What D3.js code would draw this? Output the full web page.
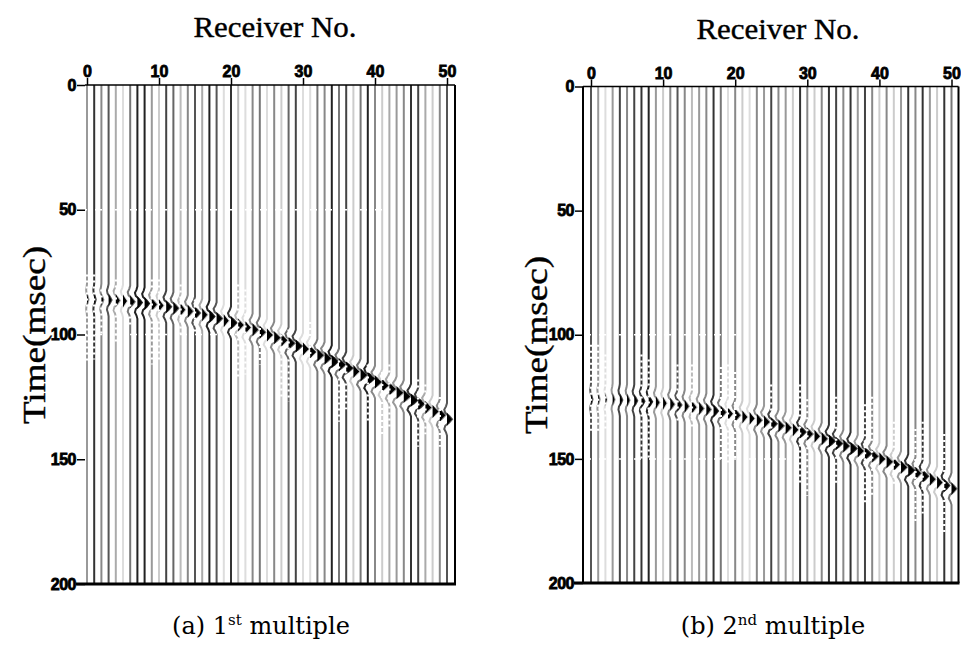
<!DOCTYPE html>
<html><head><meta charset="utf-8">
<script src="https://cdn.jsdelivr.net/npm/d3@7"></script>
<style>html,body{margin:0;padding:0;background:#fff}svg{display:block}</style>
</head><body>
<svg id="chart" width="961" height="647"></svg>
<script>
// ---------- data ----------
const receivers = d3.range(0, 51);
const xTicks = [0, 10, 20, 30, 40, 50];
const yTicks = [0, 50, 100, 150, 200];
const panelTitles = ["Receiver No.", "Receiver No."];
const yLabel = "Time(msec)";
const captions = [["(a) 1", "st", " multiple"], ["(b) 2", "nd", " multiple"]];

// trace grey level of each receiver (0 = black, 255 = white)
const traceGreyA = [153,51,136,85,170,221,119,34,34,153,204,68,102,187,136,85,170,34,85,221,51,187,221,136,119,
                    221,136,204,102,68,221,221,119,136,34,119,68,204,119,34,136,204,170,153,136,51,68,170,204,136,85];
const traceGreyB = [85,153,221,153,68,136,68,51,34,153,204,136,85,136,187,153,136,51,119,221,136,204,221,136,153,
                    68,136,153,204,51,136,204,136,51,68,136,51,153,68,136,204,136,204,153,51,136,51,153,204,51,119];

// event arrival time (ms) at each receiver
const eventTimeA = [86.0,86.0,86.1,86.2,86.4,86.6,86.9,87.2,87.6,88.0,88.4,88.9,89.5,90.1,90.7,91.4,92.1,92.8,93.6,94.5,
                    95.3,96.2,97.2,98.1,99.1,100.2,101.3,102.3,103.5,104.6,105.8,107.0,108.3,109.5,110.8,112.1,113.4,
                    114.8,116.2,117.6,119.0,120.4,121.8,123.3,124.8,126.3,127.8,129.3,130.9,132.4,134.0];
const eventTimeB = [126.0,126.0,126.1,126.1,126.3,126.4,126.6,126.8,127.0,127.3,127.6,128.0,128.3,128.8,129.2,129.7,
                    130.1,130.7,131.2,131.8,132.4,133.1,133.7,134.4,135.1,135.9,136.7,137.5,138.3,139.2,140.0,140.9,
                    141.9,142.8,143.8,144.8,145.8,146.8,147.9,148.9,150.0,151.2,152.3,153.4,154.6,155.8,157.0,158.2,
                    159.5,160.7,162.0];
// event amplitude at each receiver
const eventAmpA = [0.3,0.3,0.4,0.6,0.8,0.8,0.9,0.9,0.9,1.0,0.9,1.0,1.0,0.9,1.0,1.0,1.0,1.0,1.1,1.0,1.1,1.1,1.1,1.1,1.1,
                   1.2,1.2,1.2,1.2,1.2,1.2,1.2,1.2,1.3,1.2,1.3,1.3,1.2,1.3,1.3,1.3,1.3,1.3,1.3,1.3,1.3,1.2,1.2,1.2,1.1,1.0];
const eventAmpB = [0.3,0.3,0.3,0.4,0.5,0.5,0.6,0.6,0.7,0.7,0.7,0.8,0.8,0.8,0.9,0.9,0.9,0.9,1.0,1.0,1.0,1.0,1.0,1.0,1.1,
                   1.1,1.1,1.1,1.1,1.1,1.1,1.1,1.1,1.2,1.2,1.2,1.2,1.2,1.2,1.2,1.2,1.2,1.2,1.2,1.2,1.1,1.1,1.1,1.1,1.0,1.0];
// wavelet samples (relative), spaced by waveletStep ms, centred on the event time
const wavelet = [0, -0.2, -0.55, -0.35, 0.45, 1.0, 0.45, -0.35, -0.55, -0.2, 0];
const waveletStep = 1.3;

// noisy (broken) trace stretches: [receiver, t start, t end]
const noiseA = [[0,76,112],[1,76,110],[2,82,100],[4,78,104],[6,88,96],[9,78,112],[10,78,110],[13,80,100],[15,86,100],
                [21,80,118],[22,82,116],[24,95,112],[27,100,125],[28,98,127],[31,95,110],[35,108,135],[36,110,130],
                [39,112,136],[41,115,140],[42,112,138],[46,118,145],[47,120,140],[49,125,145]];
const noiseB = [[0,104,140],[1,104,140],[2,108,138],[7,108,150],[8,110,150],[12,112,135],[14,112,138],[18,113,150],
                [19,112,152],[20,115,150],[25,120,140],[29,120,160],[30,126,165],[34,125,160],[38,128,168],[39,125,165],
                [42,135,160],[45,138,175],[46,135,172],[49,140,180]];
// dotted rows: [time, receiver from, receiver to]
const rowsA = [[50,0,41],[100,0,22]];
const rowsB = [[100,0,21],[150,0,28]];

// ---------- layout ----------
const panels = [
  {grey: traceGreyA, tev: eventTimeA, amp: eventAmpA, noise: noiseA, rows: rowsA,
   xr: [87, 447], yr: [85, 584], left: 85, right: 455, leftFrame: false,
   title: {x: 275, y: 37}, ylab: {x: 45, y: 335}, cap: {x: 261, y: 634}},
  {grey: traceGreyB, tev: eventTimeB, amp: eventAmpB, noise: noiseB, rows: rowsB,
   xr: [591, 951.5], yr: [86.5, 583], left: 583, right: 958.5, leftFrame: true,
   title: {x: 778, y: 39}, ylab: {x: 547, y: 345}, cap: {x: 773, y: 634}}
];

const svg = d3.select("#chart");

panels.forEach((p, pi) => {
  const g = svg.append("g");
  const x = d3.scaleLinear().domain([0, 50]).range(p.xr);
  const y = d3.scaleLinear().domain([0, 200]).range(p.yr);
  const tMax = 200;
  const scalePx = 5;

  // traces
  receivers.forEach(r => {
    const base = x(r);
    const c = p.grey[r];
    const col = d3.rgb(c, c, c).toString();
    const t0 = p.tev[r];
    const half = (wavelet.length - 1) / 2;
    const wpts = wavelet.map((w, k) => ({t: t0 + (k - half) * waveletStep, a: w * p.amp[r]}));
    const pts = [{t: 0, a: 0}].concat(wpts, [{t: tMax, a: 0}]);
    g.append("path")
      .attr("d", d3.line().x(d => base + d.a * scalePx).y(d => y(d.t))(pts))
      .attr("fill", "none").attr("stroke", col).attr("stroke-width", 2);
    g.append("path")
      .attr("d", d3.area().x0(base).x1(d => base + Math.max(0, d.a) * scalePx).y(d => y(d.t))(wpts))
      .attr("fill", "#000");
  });

  // noisy stretches
  p.noise.forEach(([r, a, b]) => {
    g.append("line")
      .attr("x1", x(r)).attr("x2", x(r)).attr("y1", y(a)).attr("y2", y(b))
      .attr("stroke", "#fff").attr("stroke-width", 2.4).attr("stroke-dasharray", "2,4");
  });
  // dotted rows
  p.rows.forEach(([t, r0, r1]) => {
    g.append("line")
      .attr("x1", x(r0) - 2).attr("x2", x(r1) + 2).attr("y1", y(t)).attr("y2", y(t))
      .attr("stroke", "#fff").attr("stroke-width", 1.5).attr("stroke-dasharray", "2,3");
  });

  // frame
  g.append("line").attr("x1", p.left).attr("x2", p.right).attr("y1", p.yr[0]).attr("y2", p.yr[0])
    .attr("stroke", "#000").attr("stroke-width", 1.5);
  g.append("line").attr("x1", p.right).attr("x2", p.right).attr("y1", p.yr[0]).attr("y2", p.yr[1])
    .attr("stroke", "#000").attr("stroke-width", 2);
  if (p.leftFrame) {
    g.append("line").attr("x1", p.left).attr("x2", p.left).attr("y1", p.yr[0]).attr("y2", p.yr[1])
      .attr("stroke", "#000").attr("stroke-width", 2);
  }
  g.append("line").attr("x1", p.left - 9).attr("x2", p.right + 1).attr("y1", p.yr[1]).attr("y2", p.yr[1])
    .attr("stroke", "#000").attr("stroke-width", 3);

  // top axis
  const topAxis = d3.axisTop(x).tickValues(xTicks).tickSize(7).tickPadding(1).tickSizeOuter(0);
  const ta = g.append("g").attr("transform", `translate(0,${p.yr[0]})`).call(topAxis);
  ta.select(".domain").remove();
  ta.selectAll("line").attr("stroke", "#000").attr("stroke-width", 1.5);
  ta.selectAll("text").attr("font-family", "'Liberation Sans', Arial, sans-serif")
    .attr("font-weight", "bold").attr("font-size", 16).attr("fill", "#000")
    .attr("stroke", "#000").attr("stroke-width", 0.8);

  // left axis
  const leftAxis = d3.axisLeft(y).tickValues(yTicks).tickSize(8).tickPadding(1).tickSizeOuter(0);
  const la = g.append("g").attr("transform", `translate(${p.left},0)`).call(leftAxis);
  la.select(".domain").remove();
  la.selectAll("line").attr("stroke", "#000").attr("stroke-width", 1.5);
  la.selectAll("text").attr("font-family", "'Liberation Sans', Arial, sans-serif")
    .attr("font-weight", "bold").attr("font-size", 16).attr("fill", "#000")
    .attr("stroke", "#000").attr("stroke-width", 0.8).attr("letter-spacing", -0.5);

  // title
  g.append("text").attr("x", p.title.x).attr("y", p.title.y).attr("text-anchor", "middle")
    .attr("font-family", "'Liberation Serif', 'Times New Roman', serif").attr("font-size", 30)
    .attr("stroke", "#000").attr("stroke-width", 0.4)
    .attr("textLength", 163).attr("lengthAdjust", "spacingAndGlyphs")
    .text(panelTitles[pi]);

  // y label
  g.append("text").attr("transform", `translate(${p.ylab.x},${p.ylab.y}) rotate(-90)`)
    .attr("text-anchor", "middle")
    .attr("font-family", "'Liberation Serif', 'Times New Roman', serif").attr("font-size", 32)
    .attr("stroke", "#000").attr("stroke-width", 0.4)
    .attr("textLength", 178).attr("lengthAdjust", "spacingAndGlyphs")
    .text(yLabel);

  // caption
  const cap = g.append("text").attr("x", p.cap.x).attr("y", p.cap.y).attr("text-anchor", "middle")
    .attr("font-family", "'DejaVu Serif', serif").attr("font-size", 24);
  cap.append("tspan").text(captions[pi][0]);
  cap.append("tspan").attr("font-size", 15).attr("dy", -9).text(captions[pi][1]);
  cap.append("tspan").attr("dy", 9).text(captions[pi][2]);
});
</script>
</body></html>
